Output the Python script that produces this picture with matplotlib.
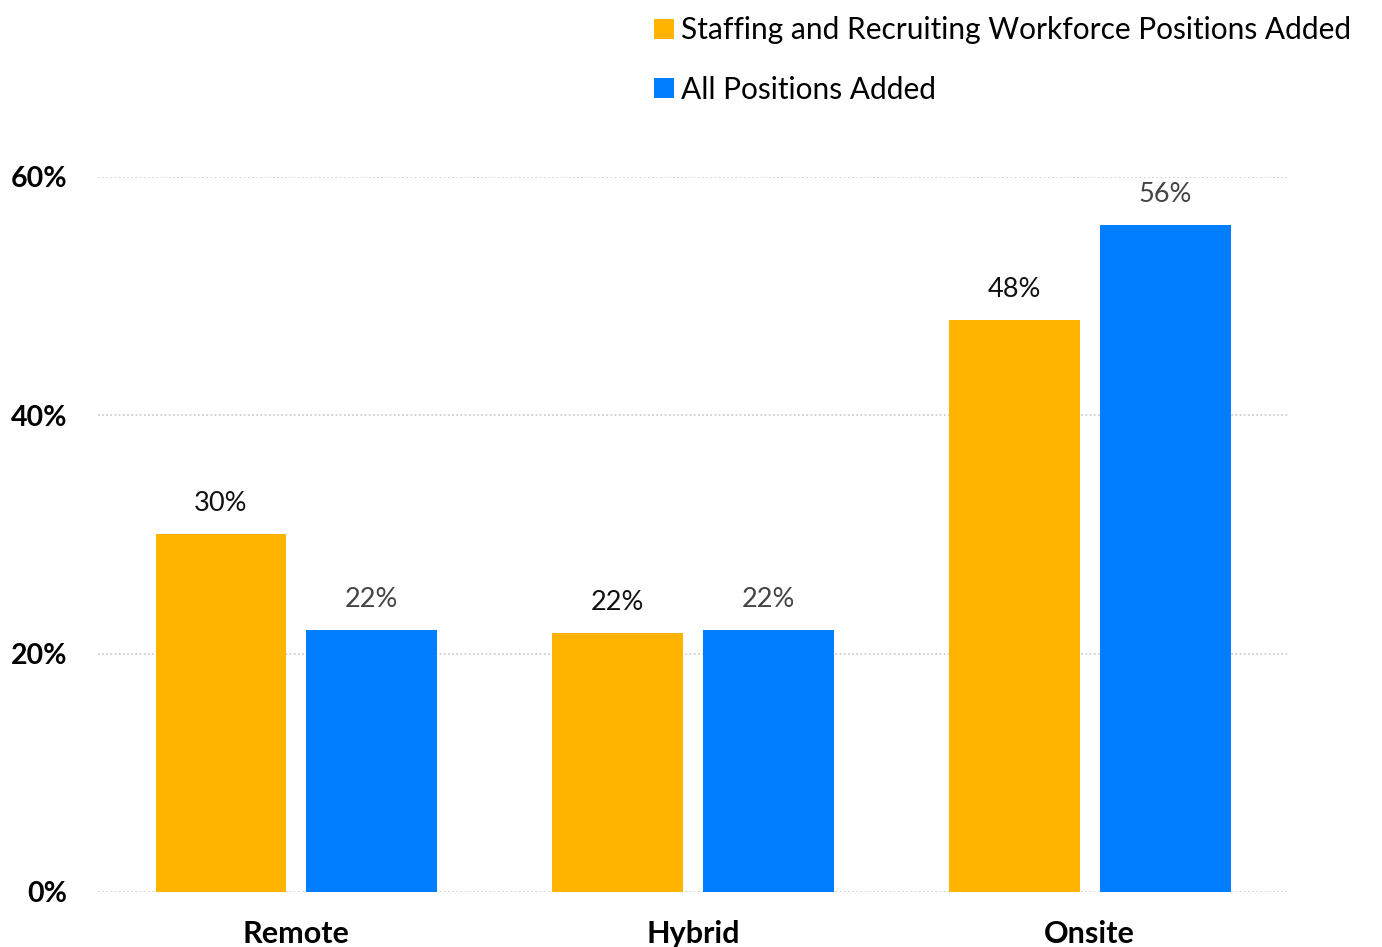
import matplotlib.pyplot as plt
import numpy as np

plt.rcParams['font.family'] = ['Lato', 'DejaVu Sans']

categories = ['Remote', 'Hybrid', 'Onsite']
staffing = [30, 21.7, 48]
all_positions = [22, 22, 56]
series_names = ['Staffing and Recruiting Workforce Positions Added', 'All Positions Added']
yticks = [0, 20, 40, 60]

orange = '#FFB400'
blue = '#007EFF'

fig = plt.figure(figsize=(13.82, 9.47), dpi=100)
ax = fig.add_axes([0.0709, 0.0581, 0.8611, 0.7550])

x = np.arange(len(categories))
w = 0.33
off = 0.19
b1 = ax.bar(x - off, staffing, w, color=orange, label=series_names[0], zorder=2)
b2 = ax.bar(x + off, all_positions, w, color=blue, label=series_names[1], zorder=2)

for bars, vals, col in [(b1, staffing, '#111111'), (b2, all_positions, '#444444')]:
    for rect, v in zip(bars, vals):
        ax.annotate(f'{v:.0f}%', (rect.get_x() + rect.get_width() / 2, v),
                    xytext=(0, 13), textcoords='offset points', ha='center', va='bottom',
                    fontsize=19.5, color=col, annotation_clip=False)

ax.set_xlim(-0.5, 2.5)
ax.set_ylim(0, 60)
ax.set_yticks(yticks)
ax.set_yticklabels([f'{t}%' for t in yticks], fontsize=20.5, fontweight='bold')
ax.set_xticks(x)
ax.set_xticklabels(categories, fontsize=22, fontweight='bold')
ax.tick_params(axis='y', length=0, pad=22)
ax.tick_params(axis='x', length=0, pad=20)
ax.yaxis.grid(True, linestyle=(0, (1, 1.5)), color='#c8c8c8', linewidth=1.2, zorder=0)
for s in ax.spines.values():
    s.set_visible(False)

fig.legend(handles=[b1, b2], loc='upper left', bbox_to_anchor=(0.4615, 1.0),
           frameon=False, fontsize=21.5, handlelength=0.65, handleheight=0.65,
           handletextpad=0.25, labelspacing=1.05, borderaxespad=0.15)

fig.savefig('out.png', dpi=100)
